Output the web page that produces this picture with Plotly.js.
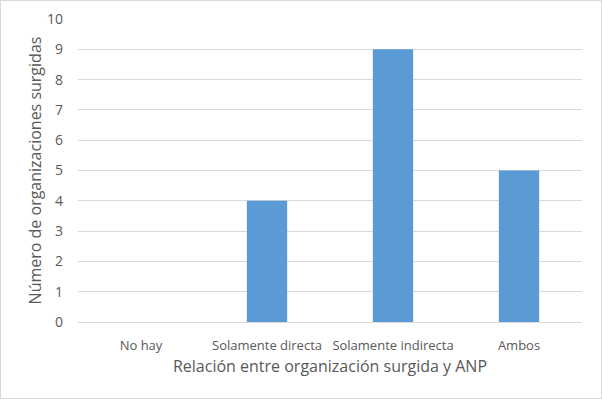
<!DOCTYPE html>
<html><head><meta charset="utf-8">
<script src="https://cdn.plot.ly/plotly-3.0.1.min.js"></script>
<style>html,body{margin:0;padding:0;background:#fff;}#c{width:600px;height:397px;border:1px solid #d9d9d9;}</style>
</head><body><div id="c"></div>
<script>
var categories = ["No hay", "Solamente directa", "Solamente indirecta", "Ambos"];
var values = [0, 4, 9, 5];
var yTicks = [0,1,2,3,4,5,6,7,8,9,10];
Plotly.newPlot('c', [{
  type: 'bar', x: categories, y: values,
  marker: {color: '#5b9bd5'}, hoverinfo: 'none'
}], {
  width: 600, height: 397,
  margin: {l: 77, r: 19, t: 18, b: 76},
  bargap: 0.68,
  paper_bgcolor: '#fff', plot_bgcolor: '#fff',
  font: {family: 'Open Sans, sans-serif', color: '#595959', size: 13},
  xaxis: {
    showgrid: false, showline: true, linecolor: '#d9d9d9', linewidth: 1,
    ticks: '', tickfont: {size: 13, color: '#595959'}, ticklen: 0, ticklabelstandoff: 11,
    title: {text: 'Relación entre organización surgida y ANP', font: {size: 16, color: '#595959'}, standoff: 8}
  },
  yaxis: {
    range: [0, 10], tickvals: yTicks, ticktext: yTicks.map(String),
    showgrid: true, gridcolor: '#d9d9d9', gridwidth: 1, zeroline: false,
    showline: false, ticks: '', tickfont: {size: 14, color: '#595959'}, ticklabelstandoff: 14,
    title: {text: 'Número de organizaciones surgidas', font: {size: 16, color: '#595959'}, standoff: 1}
  },
  showlegend: false
}, {displayModeBar: false, staticPlot: true});
</script></body></html>
